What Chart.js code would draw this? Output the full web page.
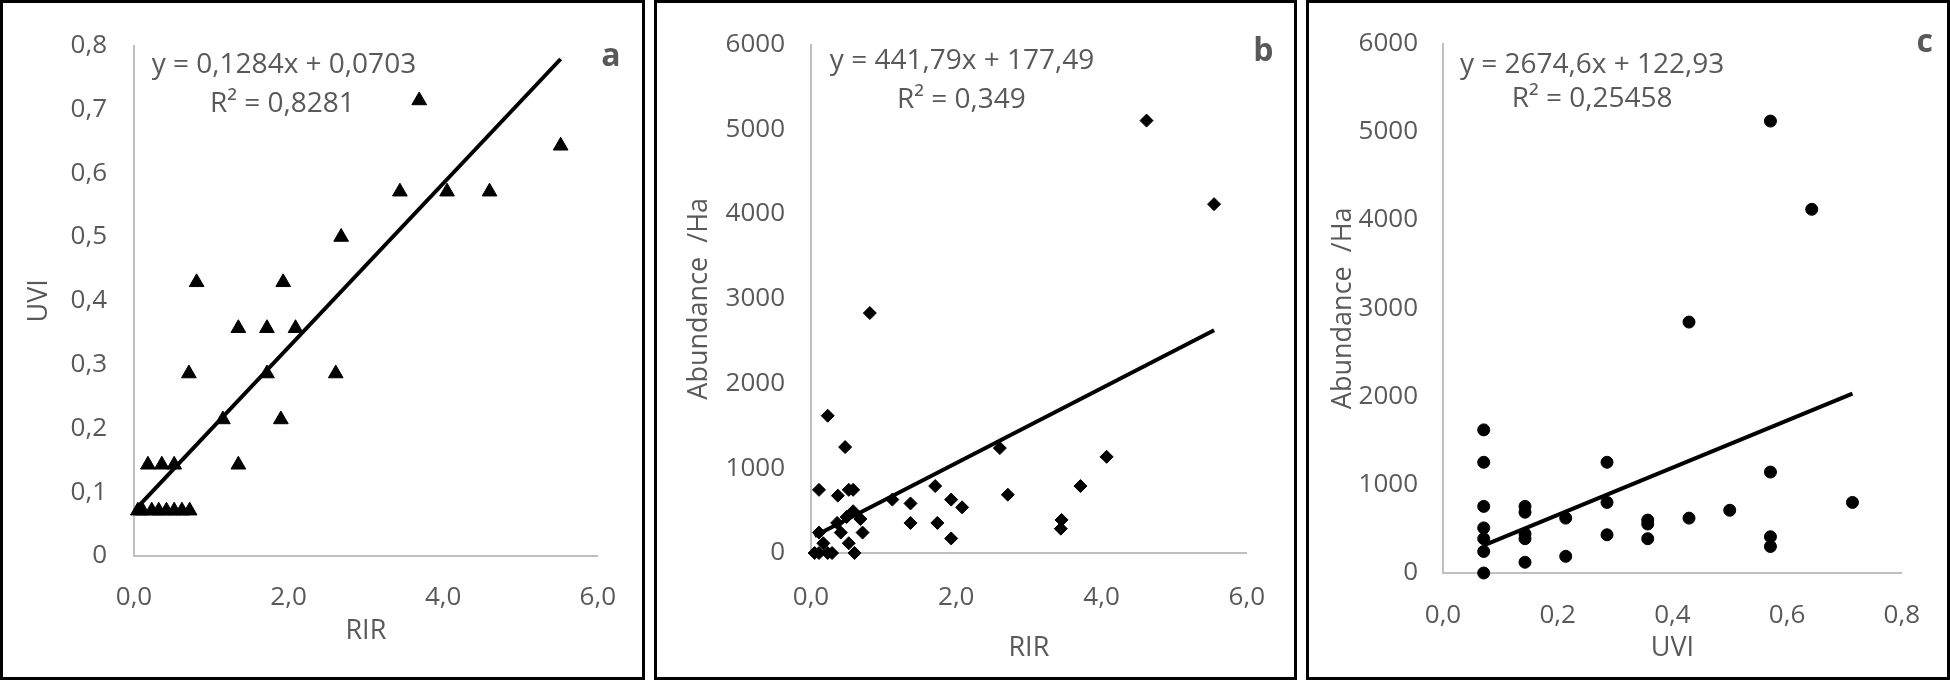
<!DOCTYPE html>
<html>
<head>
<meta charset="utf-8">
<script src="https://cdn.jsdelivr.net/npm/chart.js@4.4.1/dist/chart.umd.min.js"></script>
<style>
    html, body { margin: 0; padding: 0; background: #fff; }
    body { width: 1950px; height: 680px; position: relative; overflow: hidden; }
    .panel { position: absolute; top: 0; height: 680px; box-sizing: border-box; border: 3px solid #000; background: #fff; }
    #pa { left: 0; width: 645px; }
    #pb { left: 654px; width: 643px; }
    #pc { left: 1306px; width: 644px; }
</style>
</head>
<body>
<div class="panel" id="pa"><canvas id="graficoA"></canvas></div>
<div class="panel" id="pb"><canvas id="graficoB"></canvas></div>
<div class="panel" id="pc"><canvas id="graficoC"></canvas></div>
<script>
// panel a : UVI vs RIR
const rirA = [0.05, 0.11, 0.23, 0.32, 0.42, 0.52, 0.62, 0.72,
              0.18, 0.36, 0.52, 1.35,
              1.15, 1.90,
              0.71, 1.72, 2.61,
              1.35, 1.72, 2.09,
              0.81, 1.93,
              2.68,
              3.44, 4.05, 4.60,
              5.52,
              3.69];
const uviA = [0.071, 0.071, 0.071, 0.071, 0.071, 0.071, 0.071, 0.071,
              0.143, 0.143, 0.143, 0.143,
              0.214, 0.214,
              0.286, 0.286, 0.286,
              0.357, 0.357, 0.357,
              0.429, 0.429,
              0.5,
              0.571, 0.571, 0.571,
              0.643,
              0.714];
const trendAX = [0.05, 5.52];
const trendAY = [0.077, 0.779];

// panel b : Abundance vs RIR
const rirB = [0.05, 0.11, 0.23, 0.29, 0.60, 0.17, 0.52, 0.11, 0.41, 0.71,
              0.36, 0.68, 0.49, 0.58, 0.37, 0.11, 0.52, 0.58, 0.47, 0.23,
              0.81, 1.12, 1.37, 1.37, 1.71, 1.74, 1.93, 1.93, 2.08, 2.60,
              2.71, 3.45, 3.44, 3.71, 4.07, 4.62, 5.55];
const abundB = [0, 0, 0, 0, 0, 115, 115, 241, 241, 241,
                355, 401, 424, 493, 677, 745, 745, 745, 1250, 1620,
                2832, 630, 585, 355, 790, 355, 630, 172, 539, 1238,
                688, 390, 287, 790, 1135, 5103, 4117];
const trendBX = [0.05, 5.55];
const trendBY = [200, 2629];

// panel c : Abundance vs UVI
const uviC = [0.071, 0.071, 0.071, 0.071, 0.071, 0.071, 0.071,
              0.143, 0.143, 0.143, 0.143, 0.143,
              0.214, 0.214,
              0.286, 0.286, 0.286,
              0.357, 0.357, 0.357,
              0.429, 0.429,
              0.5,
              0.571, 0.571, 0.571, 0.571,
              0.643,
              0.714];
const abundC = [1622, 1255, 755, 511, 389, 244, 0,
                755, 689, 444, 389, 122,
                622, 189,
                1255, 800, 433,
                600, 555, 389,
                622, 2844,
                711,
                5122, 1144, 411, 300,
                4122,
                800];
const trendCX = [0.071, 0.714];
const trendCY = [313, 2033];

// tick labels
const ticksRIR = ['0,0', '2,0', '4,0', '6,0'];
const ticksUVIx = ['0,0', '0,2', '0,4', '0,6', '0,8'];
const ticksUVIy = ['0', '0,1', '0,2', '0,3', '0,4', '0,5', '0,6', '0,7', '0,8'];
const ticksAbund = ['0', '1000', '2000', '3000', '4000', '5000', '6000'];

const GREY = '#595959';
const FAMILY = "'Open Sans', 'Liberation Sans', sans-serif";
Chart.defaults.font.family = FAMILY;
Chart.defaults.color = GREY;

function pontos(xs, ys) {
    return xs.map((v, i) => ({ x: v, y: ys[i] }));
}

const textoPlugin = {
    id: 'textos',
    afterDatasetsDraw(chart, args, opts) {
        const ctx = chart.ctx;
        const sx = chart.scales.x, sy = chart.scales.y;
        ctx.save();
        (opts.items || []).forEach(it => {
            ctx.font = it.font;
            ctx.fillStyle = it.color || GREY;
            ctx.textAlign = 'center';
            ctx.textBaseline = 'middle';
            ctx.fillText(it.text, sx.getPixelForValue(it.x), sy.getPixelForValue(it.y));
        });
        ctx.restore();
    }
};

function eixo(cfg) {
    const horizontal = cfg.horizontal;
    return {
        type: 'linear',
        position: horizontal ? 'bottom' : 'left',
        min: cfg.min,
        max: cfg.max,
        grid: { display: false, drawTicks: false },
        border: { display: true, color: '#bfbfbf', width: 2 },
        ticks: {
            stepSize: cfg.step,
            padding: cfg.tickPad,
            font: { size: 26 },
            color: GREY,
            maxRotation: 0,
            autoSkip: false,
            callback: (v, i) => cfg.labels[i]
        },
        title: {
            display: true,
            text: cfg.title,
            color: GREY,
            font: { size: 27 },
            padding: horizontal ? { top: 0, bottom: cfg.titlePad } : { top: cfg.titlePad, bottom: 0 }
        },
        afterFit: s => {
            if (horizontal) s.height = cfg.size; else s.width = cfg.size;
        }
    };
}

function painel(id, cfg) {
    const el = document.getElementById(id);
    new Chart(el.getContext('2d'), {
        type: 'scatter',
        data: {
            datasets: [{
                type: 'line',
                data: pontos(cfg.trendX, cfg.trendY),
                borderColor: '#000',
                borderWidth: 4,
                pointRadius: 0,
                fill: false,
                clip: false
            }, {
                data: pontos(cfg.xs, cfg.ys),
                pointStyle: cfg.marker,
                pointRadius: cfg.radius,
                backgroundColor: '#000',
                borderColor: '#000',
                borderWidth: 1,
                clip: false
            }]
        },
        options: {
            responsive: true,
            maintainAspectRatio: false,
            animation: false,
            layout: { padding: cfg.padding },
            scales: { x: eixo(cfg.xAxis), y: eixo(cfg.yAxis) },
            plugins: {
                legend: { display: false },
                tooltip: { enabled: false },
                textos: { items: cfg.texts }
            }
        },
        plugins: [textoPlugin]
    });
}

const EQ = '28px ' + FAMILY;
const LETRA = 'bold 32px ' + FAMILY;

painel('graficoA', {
    xs: rirA, ys: uviA, trendX: trendAX, trendY: trendAY,
    marker: 'triangle', radius: 8.5,
    padding: { left: 0, top: 29, right: 41, bottom: 0 },
    xAxis: { horizontal: true, min: 0, max: 6, step: 2, labels: ticksRIR, title: 'RIR', tickPad: 26, titlePad: 29, size: 121 },
    yAxis: { min: 0, max: 0.8, step: 0.1, labels: ticksUVIy, title: 'UVI', tickPad: 27, titlePad: 20, size: 131 },
    texts: [
        { text: 'y = 0,1284x + 0,0703', x: 1.94, y: 0.77, font: EQ },
        { text: 'R² = 0,8281', x: 1.92, y: 0.708, font: EQ },
        { text: 'a', x: 6.17, y: 0.783, font: LETRA }
    ]
});

painel('graficoB', {
    xs: rirB, ys: abundB, trendX: trendBX, trendY: trendBY,
    marker: 'rectRot', radius: 6.5,
    padding: { left: 0, top: 27, right: 45, bottom: 0 },
    xAxis: { horizontal: true, min: 0, max: 6, step: 2, labels: ticksRIR, title: 'RIR', tickPad: 29, titlePad: 12, size: 124 },
    yAxis: { min: 0, max: 6000, step: 1000, labels: ticksAbund, title: 'Abundance  /Ha', tickPad: 26, titlePad: 26, size: 154 },
    texts: [
        { text: 'y = 441,79x + 177,49', x: 2.08, y: 5803, font: EQ },
        { text: 'R² = 0,349', x: 2.07, y: 5344, font: EQ },
        { text: 'b', x: 6.23, y: 5917, font: LETRA }
    ]
});

painel('graficoC', {
    xs: uviC, ys: abundC, trendX: trendCX, trendY: trendCY,
    marker: 'circle', radius: 6,
    padding: { left: 0, top: 30, right: 43, bottom: 0 },
    xAxis: { horizontal: true, min: 0, max: 0.8, step: 0.2, labels: ticksUVIx, title: 'UVI', tickPad: 27, titlePad: 12, size: 104 },
    yAxis: { min: 0, max: 6000, step: 1000, labels: ticksAbund, title: 'Abundance  /Ha', tickPad: 25, titlePad: 18, size: 134 },
    texts: [
        { text: 'y = 2674,6x + 122,93', x: 0.26, y: 5756, font: EQ },
        { text: 'R² = 0,25458', x: 0.26, y: 5367, font: EQ },
        { text: 'c', x: 0.84, y: 6011, font: LETRA }
    ]
});
</script>
</body>
</html>
